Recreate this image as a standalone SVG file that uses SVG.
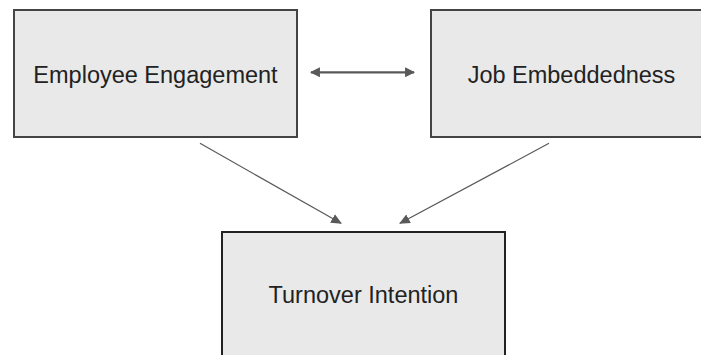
<svg xmlns="http://www.w3.org/2000/svg" width="701" height="355" viewBox="0 0 701 355">
  <style>
    .box { fill: #e9e9e9; stroke: #444444; stroke-width: 2; }
    .label { font-family: "Liberation Sans", Arial, sans-serif; font-size: 23.5px; fill: #222222; text-anchor: middle; }
    .link { fill: none; stroke: #595959; }
    .thick { stroke-width: 2.2; }
    .thin { stroke-width: 1.2; }
  </style>
  <defs>
    <marker id="head" viewBox="0 0 10 10" refX="9" refY="5" markerWidth="4.5" markerHeight="4.5" orient="auto-start-reverse" markerUnits="strokeWidth">
      <path d="M0,0 L10,5 L0,10 z" fill="#595959"/>
    </marker>
    <marker id="headSmall" viewBox="0 0 10 10" refX="9" refY="5" markerWidth="9" markerHeight="9" orient="auto" markerUnits="strokeWidth">
      <path d="M0,0.5 L10,5 L0,9.5 z" fill="#595959"/>
    </marker>
  </defs>

  <rect width="701" height="355" fill="#ffffff"/>

  <g id="employee-engagement">
    <rect class="box" x="14" y="10" width="283" height="127"/>
    <text class="label" x="155.5" y="83">Employee Engagement</text>
  </g>

  <g id="job-embeddedness">
    <rect class="box" x="431" y="10" width="282" height="127"/>
    <text class="label" x="571.5" y="83">Job Embeddedness</text>
  </g>

  <g id="turnover-intention">
    <rect class="box" x="222" y="232" width="283" height="130" style="stroke:#222222"/>
    <text class="label" x="363.5" y="303">Turnover Intention</text>
  </g>

  <g id="connectors">
    <line class="link thick" x1="311" y1="72.3" x2="414" y2="72.3" marker-start="url(#head)" marker-end="url(#head)"/>
    <line class="link thin" x1="200" y1="143.3" x2="341" y2="223.3" marker-end="url(#headSmall)"/>
    <line class="link thin" x1="549" y1="143.3" x2="400" y2="223.3" marker-end="url(#headSmall)"/>
  </g>
</svg>
